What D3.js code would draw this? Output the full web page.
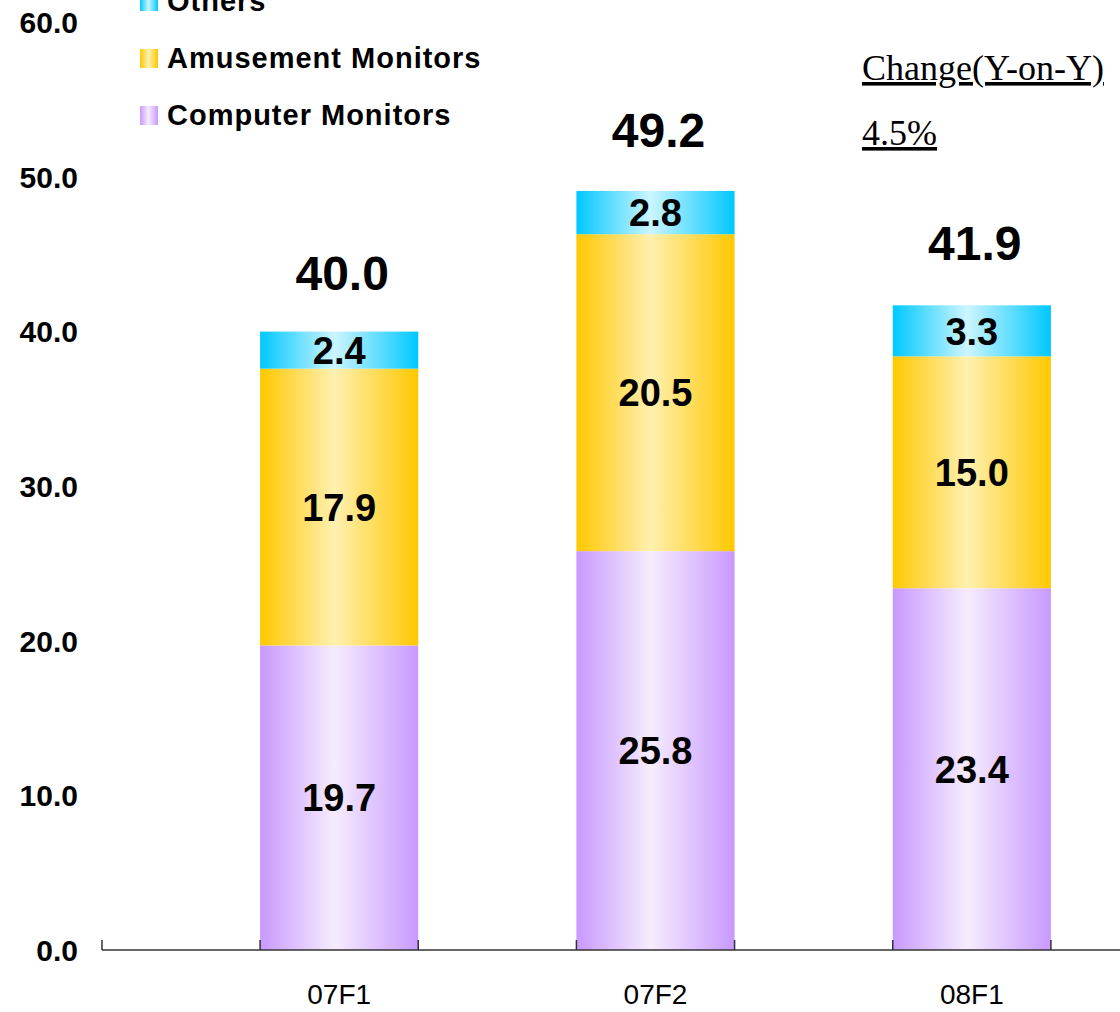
<!DOCTYPE html>
<html>
<head>
<meta charset="utf-8">
<script src="https://cdn.jsdelivr.net/npm/d3@7"></script>
<style>
  body { margin: 0; background: #fff; }
  svg { display: block; }
</style>
</head>
<body>
<div id="chart"></div>
<script>
// data
var categories = ["07F1", "07F2", "08F1"];
var seriesNames = ["Computer Monitors", "Amusement Monitors", "Others"];
var computerMonitors = [19.7, 25.8, 23.4];
var amusementMonitors = [17.9, 20.5, 15.0];
var others = [2.4, 2.8, 3.3];
var totals = [40.0, 49.2, 41.9];
var yTicks = [0, 10, 20, 30, 40, 50, 60];
var changeLabel = "Change(Y-on-Y)";
var changeValue = "4.5%";

var svgWidth = 1120;
var svgHeight = 1012;

var svg = d3.select("#chart")
    .append("svg")
    .attr("width", svgWidth)
    .attr("height", svgHeight);

// gradients: saturated edges, light middle
var colors = {
    "Computer Monitors": { edge: "#c899ff", mid: "#f6ecfd" },
    "Amusement Monitors": { edge: "#ffc800", mid: "#fff0b0" },
    "Others": { edge: "#00c8ff", mid: "#ccf5ff" }
};
var defs = svg.append("defs");
seriesNames.forEach((name, i) => {
    var g = defs.append("linearGradient")
        .attr("id", "grad" + i)
        .attr("x1", "0%").attr("x2", "100%")
        .attr("y1", "0%").attr("y2", "0%");
    g.append("stop").attr("offset", "0%").attr("stop-color", colors[name].edge);
    g.append("stop").attr("offset", "47%").attr("stop-color", colors[name].mid);
    g.append("stop").attr("offset", "100%").attr("stop-color", colors[name].edge);
});

// scales
var yScale = d3.scaleLinear()
    .domain([0, 60])
    .range([950, 22.4]);

var xScale = d3.scaleBand()
    .domain(categories)
    .range([181, 1130])
    .paddingInner(0.5)
    .paddingOuter(0.25);

// stack
var table = categories.map((c, i) => ({
    cat: c,
    "Computer Monitors": computerMonitors[i],
    "Amusement Monitors": amusementMonitors[i],
    "Others": others[i]
}));
var stacked = d3.stack().keys(seriesNames)(table);

var layers = svg.selectAll(".layer")
    .data(stacked)
    .enter()
    .append("g")
    .attr("class", "layer")
    .attr("fill", (d, i) => `url(#grad${i})`);

layers.selectAll("rect")
    .data(d => d)
    .enter()
    .append("rect")
    .attr("x", d => xScale(d.data.cat))
    .attr("width", xScale.bandwidth())
    .attr("y", d => yScale(d[1]))
    .attr("height", d => yScale(d[0]) - yScale(d[1]));

// segment labels
layers.selectAll("text")
    .data(d => d)
    .enter()
    .append("text")
    .attr("x", d => xScale(d.data.cat) + xScale.bandwidth() / 2)
    .attr("y", d => (yScale(d[0]) + yScale(d[1])) / 2)
    .attr("dy", "0.36em")
    .attr("text-anchor", "middle")
    .attr("fill", "#000")
    .style("font-family", "Arial, 'Liberation Sans', sans-serif")
    .style("font-weight", "bold")
    .style("font-size", "38px")
    .text(d => (d[1] - d[0]).toFixed(1));

// totals
svg.selectAll(".total")
    .data(categories)
    .enter()
    .append("text")
    .attr("class", "total")
    .attr("x", d => xScale(d) + xScale.bandwidth() / 2 + 3)
    .attr("y", (d, i) => yScale(totals[i]) - 42)
    .attr("text-anchor", "middle")
    .style("font-family", "Arial, 'Liberation Sans', sans-serif")
    .style("font-weight", "bold")
    .style("font-size", "48px")
    .text((d, i) => totals[i].toFixed(1));

// y axis labels (no axis line)
svg.selectAll(".ytick")
    .data(yTicks)
    .enter()
    .append("text")
    .attr("class", "ytick")
    .attr("x", 78)
    .attr("y", d => yScale(d))
    .attr("dy", "0.36em")
    .attr("text-anchor", "end")
    .style("font-family", "Arial, 'Liberation Sans', sans-serif")
    .style("font-weight", "bold")
    .style("font-size", "30px")
    .text(d3.format(".1f"));

// x axis
var axisY = yScale(0);
svg.append("line")
    .attr("x1", 102).attr("x2", svgWidth)
    .attr("y1", axisY).attr("y2", axisY)
    .attr("stroke", "#333")
    .attr("stroke-width", 1.5);

var tickXs = [102];
categories.forEach(c => {
    tickXs.push(xScale(c));
    tickXs.push(xScale(c) + xScale.bandwidth());
});
svg.selectAll(".xtick")
    .data(tickXs)
    .enter()
    .append("line")
    .attr("class", "xtick")
    .attr("x1", d => d).attr("x2", d => d)
    .attr("y1", axisY - 10).attr("y2", axisY)
    .attr("stroke", "#333")
    .attr("stroke-width", 1.5);

svg.selectAll(".xlabel")
    .data(categories)
    .enter()
    .append("text")
    .attr("class", "xlabel")
    .attr("x", d => xScale(d) + xScale.bandwidth() / 2)
    .attr("y", 1004)
    .attr("text-anchor", "middle")
    .style("font-family", "Arial, 'Liberation Sans', sans-serif")
    .style("font-size", "28px")
    .text(d => d);

// legend (top first: Others, Amusement, Computer)
var legendOrder = seriesNames.slice().reverse();
var legend = svg.selectAll(".legend")
    .data(legendOrder)
    .enter()
    .append("g")
    .attr("class", "legend")
    .attr("transform", (d, i) => `translate(140, ${-8 + i * 57})`);

legend.append("rect")
    .attr("width", 18)
    .attr("height", 19)
    .attr("fill", d => `url(#grad${seriesNames.indexOf(d)})`);

legend.append("text")
    .attr("x", 27)
    .attr("y", 19)
    .style("font-family", "Arial, 'Liberation Sans', sans-serif")
    .style("font-weight", "bold")
    .style("font-size", "29px")
    .style("letter-spacing", "1px")
    .text(d => d);

// change annotation
svg.append("text")
    .attr("x", 862)
    .attr("y", 80)
    .style("font-family", "'Times New Roman', 'Liberation Serif', serif")
    .style("font-size", "36px")
    .style("text-decoration", "underline")
    .text(changeLabel);

svg.append("text")
    .attr("x", 862)
    .attr("y", 145)
    .style("font-family", "'Times New Roman', 'Liberation Serif', serif")
    .style("font-size", "36px")
    .style("text-decoration", "underline")
    .text(changeValue);
</script>
</body>
</html>
